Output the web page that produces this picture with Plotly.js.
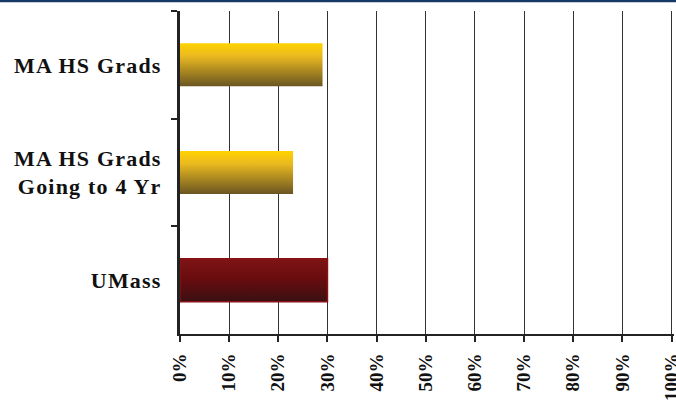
<!DOCTYPE html>
<html>
<head>
<meta charset="utf-8">
<script src="https://cdn.plot.ly/plotly-3.0.1.min.js"></script>
<style>
html,body{margin:0;padding:0;background:#fff;}
#chart{width:676px;height:400px;}
</style>
</head>
<body>
<div id="chart"></div>
<script>
const categories = ["MA HS Grads", "MA HS Grads<br>Going to 4 Yr", "UMass"];
const values = [29, 23, 30];
const tickValues = [0, 10, 20, 30, 40, 50, 60, 70, 80, 90, 100];
const tickLabels = ["0%", "10%", "20%", "30%", "40%", "50%", "60%", "70%", "80%", "90%", "100%"];
const gradientIds = ["gradGold", "gradGold", "gradRed"];

const fam = "Liberation Serif, Times New Roman, serif";

const trace = {
  type: "bar",
  orientation: "h",
  x: values,
  y: categories,
  width: 0.4,
  marker: {
    color: ["#e0b000", "#e0b000", "#6a1014"],
    line: {color: ["rgba(0,0,0,0)", "rgba(0,0,0,0)", "#8b1016"], width: [0, 0, 1.5]}
  },
  hoverinfo: "none"
};

const layout = {
  width: 676, height: 400,
  margin: {l: 180, r: 2, t: 11, b: 66, pad: 0},
  paper_bgcolor: "#fff", plot_bgcolor: "#fff",
  showlegend: false,
  xaxis: {
    range: [0, 100.5],
    tickvals: tickValues, ticktext: tickLabels,
    tickangle: -90,
    tickfont: {family: fam, size: 19, color: "#111", weight: 700},
    ticklabeloverflow: "allow",
    showgrid: true, gridcolor: "#333", gridwidth: 1,
    showline: true, linecolor: "#222", linewidth: 2,
    ticks: "outside", ticklen: 6, tickwidth: 2, tickcolor: "#222",
    ticklabelstandoff: 4,
    zeroline: false, fixedrange: true
  },
  yaxis: {
    autorange: "reversed",
    tickfont: {family: fam, size: 22, color: "#111", weight: 700},
    showline: true, linecolor: "#222", linewidth: 3,
    ticks: "outside", ticklen: 6, tickwidth: 2, tickcolor: "#222",
    tickson: "boundaries",
    ticklabelstandoff: 11,
    showgrid: false, zeroline: false, fixedrange: true
  },
  shapes: [
    {type: "line", xref: "paper", yref: "paper", x0: -0.5, x1: 1.1, y0: 1.032, y1: 1.032,
     line: {color: "#163a63", width: 3}}
  ]
};

Plotly.newPlot("chart", [trace], layout, {staticPlot: true, displayModeBar: false}).then(function (gd) {
  const ns = "http://www.w3.org/2000/svg";
  const svg = gd.querySelector("svg.main-svg");
  const defs = document.createElementNS(ns, "defs");
  svg.insertBefore(defs, svg.firstChild);
  function addGrad(id, stops) {
    const g = document.createElementNS(ns, "linearGradient");
    g.setAttribute("id", id);
    g.setAttribute("x1", "0"); g.setAttribute("y1", "0");
    g.setAttribute("x2", "0"); g.setAttribute("y2", "1");
    stops.forEach(function (s) {
      const st = document.createElementNS(ns, "stop");
      st.setAttribute("offset", s[0]);
      st.setAttribute("stop-color", s[1]);
      g.appendChild(st);
    });
    defs.appendChild(g);
  }
  addGrad("gradGold", [["0", "#ffd300"], ["0.3", "#e9b920"], ["1", "#6a5522"]]);
  addGrad("gradRed", [["0", "#7e1416"], ["0.45", "#6a0c0e"], ["1", "#3a1012"]]);
  const paths = gd.querySelectorAll("g.point path");
  paths.forEach(function (p, i) {
    const cur = p.getAttribute("style") || "";
    p.setAttribute("style", cur.replace(/fill:[^;]*;?/, "") + ";fill:url(#" + gradientIds[i] + ");fill-opacity:1;");
  });
  gd.querySelectorAll("g.ytick text").forEach(function (t) {
    t.style.letterSpacing = "1.2px";
  });
});
</script>
</body>
</html>
